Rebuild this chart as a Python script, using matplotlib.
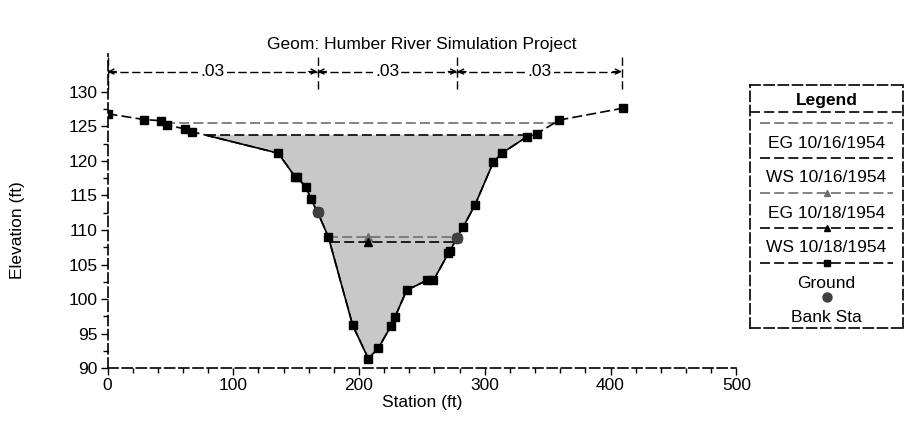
import numpy as np
import matplotlib
matplotlib.use('Agg')
import matplotlib.pyplot as plt
from matplotlib.ticker import MultipleLocator, FixedLocator

plt.rcParams['font.family'] = ['Liberation Sans', 'DejaVu Sans']

# ground points of the cross section
station = [0, 29.3, 42.5, 47, 61.6, 67.4, 135.8, 149.1, 150.7, 157.9, 161.6, 167, 175.6,
           195, 207.4, 215.3, 225.4, 228.6, 237.9, 253.8, 259.1, 271, 272.4, 278, 283,
           292.2, 306.8, 313.5, 333.8, 341.3, 359.3, 409.7]
elev = [126.8, 125.96, 125.8, 125.2, 124.6, 124.2, 121.1, 117.7, 117.6, 116.2, 114.5, 112.6, 109.0,
        96.2, 91.4, 92.9, 96.1, 97.4, 101.3, 102.7, 102.7, 106.6, 107.0, 108.9, 110.5,
        113.6, 119.8, 121.1, 123.5, 123.9, 125.9, 127.6]
bank_sta = [167, 278]

# profiles
profiles = ['10/16/1954', '10/18/1954']
eg = [125.4, 109.0]
ws = [123.7, 108.2]

# manning's n
n_sta = [0, 167, 278, 409]
n_val = ['.03', '.03', '.03']

DASH = (0, (6, 2.5))
GRAY = '#6e6e6e'
FS = 12.5


def wet_part(x, z, wse):
    # ground below a water level, with the two crossing points
    px, pz = [], []
    for i in range(len(x) - 1):
        if z[i] <= wse:
            px.append(x[i])
            pz.append(z[i])
        if (z[i] - wse) * (z[i + 1] - wse) < 0:
            px.append(x[i] + (wse - z[i]) * (x[i + 1] - x[i]) / (z[i + 1] - z[i]))
            pz.append(wse)
    if z[-1] <= wse:
        px.append(x[-1])
        pz.append(z[-1])
    return np.array(px), np.array(pz)


fig = plt.figure(figsize=(9.08, 4.33), dpi=100)
ax = fig.add_axes([107.5 / 908, 1 - 368.3 / 433, 628.8 / 908, 314.7 / 433])

# water area of the highest profile
wx, wz = wet_part(station, elev, ws[0])
ax.fill(wx, wz, color='#c8c8c8', lw=0, zorder=1)

ax.plot(station, elev, color='k', lw=1.2, linestyle=DASH, marker='s', ms=5.5, zorder=4)
ax.plot(wx, wz, color='k', lw=1.2, zorder=4)

thalweg = station[int(np.argmin(elev))]
for k in range(len(profiles)):
    ex, _ = wet_part(station, elev, eg[k])
    sx, _ = wet_part(station, elev, ws[k])
    mk = None if k == 0 else '^'
    ax.plot([ex.min(), thalweg, ex.max()], [eg[k]] * 3, color=GRAY, lw=1.2, linestyle=DASH,
            marker=mk, markevery=[1], ms=5.5, zorder=3)
    ax.plot([sx.min(), thalweg, sx.max()], [ws[k]] * 3, color='k', lw=1.2, linestyle=DASH,
            marker=mk, markevery=[1], ms=5.5, zorder=3)

ax.plot(bank_sta, np.interp(bank_sta, station, elev), 'o', color='#404040', ms=7.5, zorder=5)

# n values along the top
ax.vlines(n_sta, 130.4, 135.2, colors='k', lw=1, linestyles=DASH)
for i in range(len(n_val)):
    a, b = n_sta[i], n_sta[i + 1]
    ax.hlines(132.9, a, b, colors='k', lw=1, linestyles=DASH)
    for tip, tail in [(a, a + 7), (b, b - 7)]:
        ax.annotate('', xy=(tip, 132.9), xytext=(tail, 132.9),
                    arrowprops=dict(arrowstyle='->', lw=1, color='k', shrinkA=0, shrinkB=0,
                                    mutation_scale=9))
    ax.text((a + b) / 2, 132.9, n_val[i], ha='center', va='center', fontsize=FS,
            bbox=dict(facecolor='white', edgecolor='none', pad=1.5))

ax.set_xlim(0, 500)
ax.set_ylim(90, 135.5)
ax.xaxis.set_major_locator(MultipleLocator(100))
ax.xaxis.set_minor_locator(MultipleLocator(20))
ax.yaxis.set_major_locator(FixedLocator(np.arange(90, 131, 5)))
ax.yaxis.set_minor_locator(FixedLocator(np.arange(92.5, 131, 5)))
ax.tick_params(which='major', direction='out', length=5, width=1, labelsize=FS, pad=2)
ax.tick_params(which='minor', direction='out', length=3.5, width=1)
for side in ['top', 'right']:
    ax.spines[side].set_visible(False)
for side in ['left', 'bottom']:
    ax.spines[side].set_linestyle(DASH)
    ax.spines[side].set_linewidth(1.2)

fig.text(421.9 / 908, 1 - 45 / 433, 'Geom: Humber River Simulation Project',
         ha='center', va='center', fontsize=FS)
fig.text(18 / 908, 1 - 230 / 433, 'Elevation (ft)', rotation=90, ha='center', va='center', fontsize=FS)
fig.text(421.9 / 908, 1 - 403 / 433, 'Station (ft)', ha='center', va='center', fontsize=FS)

# legend box
lax = fig.add_axes([750 / 908, 1 - 328 / 433, 153 / 908, 243 / 433])
lax.set_xlim(0, 153)
lax.set_ylim(243, 0)
lax.set_xticks([])
lax.set_yticks([])
for s in lax.spines.values():
    s.set_linestyle(DASH)
    s.set_linewidth(1.2)
lax.text(76.5, 16, 'Legend', ha='center', va='center', fontsize=FS, weight='bold')
lax.plot([0, 153], [27, 27], color='k', lw=1.2, linestyle=DASH)

entries = [('EG ' + profiles[0], GRAY, None), ('WS ' + profiles[0], 'k', None),
           ('EG ' + profiles[1], GRAY, '^'), ('WS ' + profiles[1], 'k', '^'),
           ('Ground', 'k', 's')]
for i, (lab, col, mk) in enumerate(entries):
    y = 38 + 35 * i
    lax.plot([10, 76.5, 143], [y] * 3, color=col, lw=1.2, linestyle=DASH,
             marker=mk, markevery=[1], ms=5)
    lax.text(76.5, y + 20, lab, ha='center', va='center', fontsize=FS)
lax.plot([76.5], [212], 'o', color='#404040', ms=6.5)
lax.text(76.5, 232, 'Bank Sta', ha='center', va='center', fontsize=FS)

fig.savefig('out.png', dpi=100)
